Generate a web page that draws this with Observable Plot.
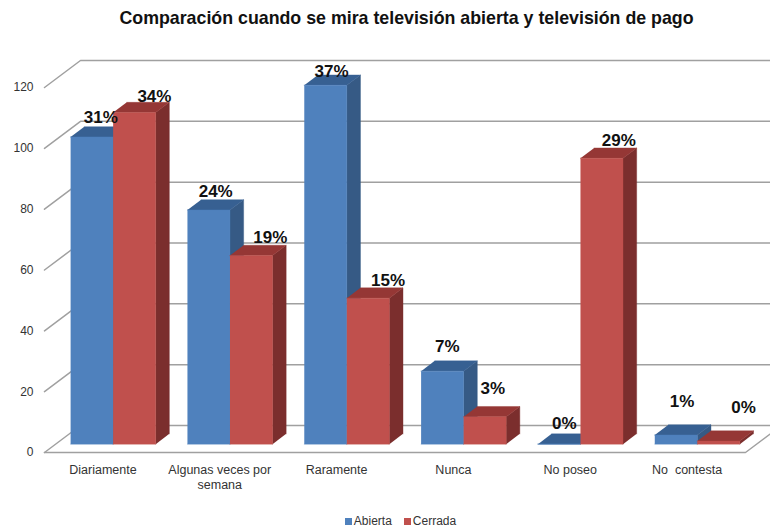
<!DOCTYPE html>
<html lang="es">
<head>
<meta charset="utf-8">
<title>Comparación televisión abierta y de pago</title>
<script src="https://cdn.jsdelivr.net/npm/d3@7"></script>
<script src="https://cdn.jsdelivr.net/npm/@observablehq/plot@0.6"></script>
<style>
  html, body { margin: 0; padding: 0; background: #fff; overflow: hidden; }
  body { width: 770px; height: 527px; position: relative; font-family: "Liberation Sans", Arial, sans-serif; }
  #title { height: 40px; line-height: 37px; text-align: center; font-size: 17.8px; font-weight: bold; color: #111; white-space: nowrap; padding-left: 43px; box-sizing: border-box; width: 770px; }
  #chart svg { display: block; }
  #legend { position: absolute; left: 0; right: 0; top: 513px; display: flex; justify-content: center; gap: 12px;
            font-size: 12px; line-height: 16px; color: #333; padding-left: 31px; box-sizing: border-box; width: 770px; }
  #legend span { display: inline-flex; align-items: center; gap: 2px; }
  #legend i { width: 7px; height: 7px; display: inline-block; }
</style>
</head>
<body>
<div id="title">Comparación cuando se mira televisión abierta y televisión de pago</div>
<div id="chart"></div>
<div id="legend"></div>
<script>
// Survey answers per category
const categories = ["Diariamente", "Algunas veces por\nsemana", "Raramente", "Nunca", "No poseo", "No\u00a0 contesta"];
const abierta = [101, 77, 118, 24, 0, 3];
const cerrada = [109, 62, 48, 9, 94, 1];
const abiertaPct = ["31%", "24%", "37%", "7%", "0%", "1%"];
const cerradaPct = ["34%", "19%", "15%", "3%", "29%", "0%"];
const yTicks = [0, 20, 40, 60, 80, 100, 120];

// Pixel nudges of the percentage labels, relative to the top centre of each bar
const abiertaNudge = [[8, -14], [6, -13], [5, -8], [4, -19], [4, -15], [5, -28]];
const cerradaNudge = [[19, -11], [18, -13], [19, -12], [7, -23], [16, -12], [24, -28]];

// Oblique projection: depth 0 is the front of the floor, depth 1 the back wall
const depthX = 0.308;
const depthY = 8.88;
const project = (x, y, z) => ({x: x + z * depthX, y: y + z * depthY});

// The bars occupy this part of each slot and this part of the depth
const barLeft = 0.128, barWidth = 0.364, zNear = 0.31, zFar = 0.69;

// Turns one series into its three visible faces, as closed outlines
function faces(values, offset) {
  const side = [], top = [], front = [];
  values.forEach((v, i) => {
    const x0 = i + barLeft + offset * barWidth, x1 = x0 + barWidth;
    front.push(...[[x0, 0], [x1, 0], [x1, v], [x0, v]]
      .map(([x, y]) => ({id: i, ...project(x, y, zNear)})));
    top.push(...[[x0, zNear], [x1, zNear], [x1, zFar], [x0, zFar]]
      .map(([x, z]) => ({id: i, ...project(x, v, z)})));
    side.push(...[[0, zNear], [v, zNear], [v, zFar], [0, zFar]]
      .map(([y, z]) => ({id: i, ...project(x1, y, z)})));
  });
  return {side, top, front};
}

function barMarks(values, offset, colors) {
  const f = faces(values, offset);
  const face = (rows, fill) => Plot.line(rows, {x: "x", y: "y", z: "id", fill, stroke: fill, strokeWidth: 0.4});
  return [face(f.side, colors.side), face(f.top, colors.top), face(f.front, colors.front)];
}

function labelMarks(values, labels, nudges, offset) {
  return labels.map((text, i) => {
    const p = project(i + barLeft + (offset + 0.5) * barWidth, values[i], zNear);
    return Plot.text([text], {
      x: () => p.x, y: () => p.y, text: d => d,
      dx: nudges[i][0] + 1, dy: nudges[i][1],
      lineAnchor: "bottom", fontSize: 17, fontWeight: "bold", fill: "#111"
    });
  });
}

const gridColor = "#a0a0a0";

// Back wall lines and the slanted rulers that lead to them
const wall = yTicks.map(v => [project(0, v, 0), project(0, v, 1), project(6, v, 1)]
  .map(p => ({id: v, ...p})));
// Floor outline: front edge and right-hand slant
const floor = [project(0, 0, 0), project(6, 0, 0), project(6, 0, 1)];

const chart = Plot.plot({
  width: 770,
  height: 460,
  marginLeft: 44,
  marginRight: 25,
  marginTop: 0,
  marginBottom: 48,
  style: {fontFamily: "'Liberation Sans', Arial, sans-serif"},
  x: {domain: [0, 6], range: [44, 745], axis: null},
  y: {domain: [0, 135], range: [412, 1.4]},
  marks: [
    Plot.line(wall.flat(), {x: "x", y: "y", z: "id", stroke: gridColor, strokeWidth: 1.5}),
    Plot.line(floor, {x: "x", y: "y", stroke: gridColor, strokeWidth: 1.5}),
    Plot.axisY({ticks: yTicks, tickSize: 0, tickPadding: 11, label: null, fontSize: 12, color: "#333"}),
    ...barMarks(abierta, 0, {front: "#4f81bd", top: "#376092", side: "#365a85"}),
    ...barMarks(cerrada, 1, {front: "#c0504d", top: "#953735", side: "#7b2e2d"}),
    ...labelMarks(abierta, abiertaPct, abiertaNudge, 0),
    ...labelMarks(cerrada, cerradaPct, cerradaNudge, 1),
    Plot.text(categories, {
      x: (d, i) => i + 0.5, y: () => 0, text: d => d,
      dy: 11, lineAnchor: "top", lineHeight: 1.2, fontSize: 12.5, fill: "#333"
    })
  ]
});
document.getElementById("chart").append(chart);

// Series key under the chart
const legendItems = [["Abierta", "#4f81bd"], ["Cerrada", "#c0504d"]];
const legend = document.getElementById("legend");
for (const [name, color] of legendItems) {
  const item = document.createElement("span");
  const swatch = document.createElement("i");
  swatch.style.background = color;
  item.append(swatch, name);
  legend.append(item);
}
</script>
</body>
</html>
